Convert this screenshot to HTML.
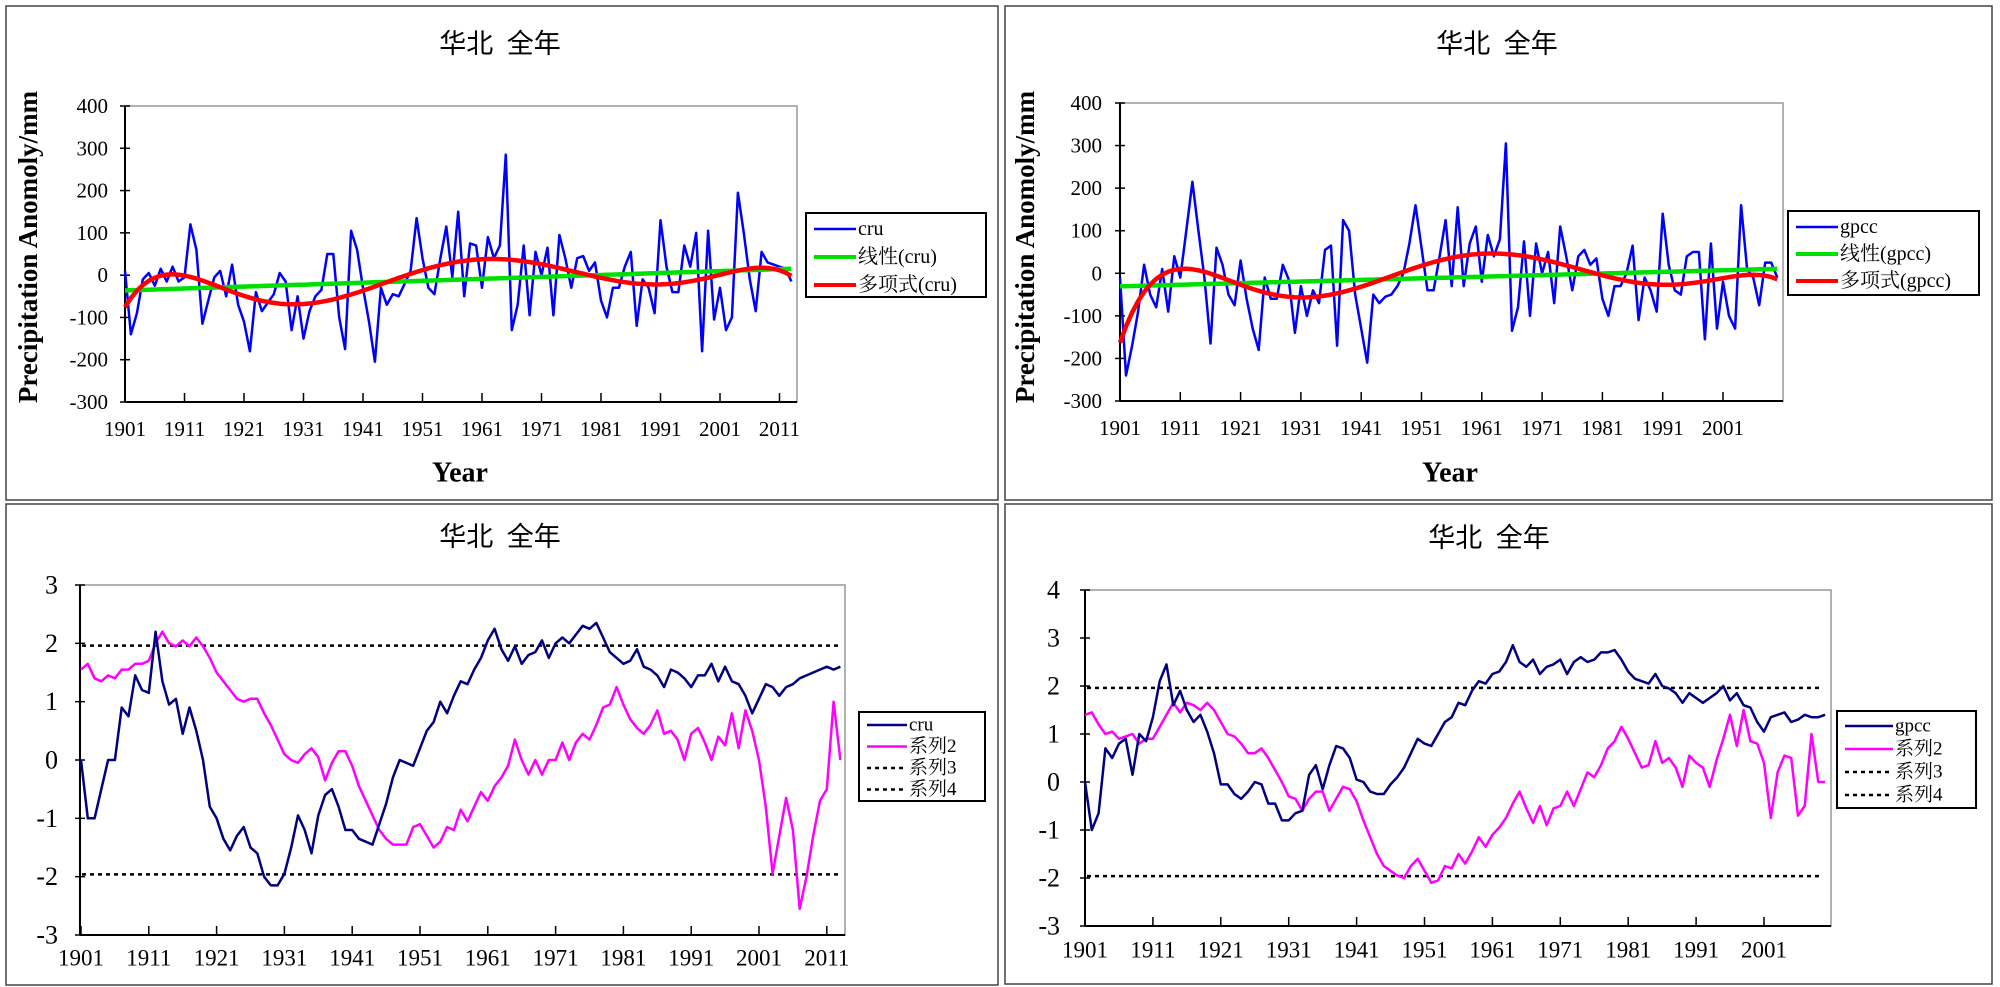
<!DOCTYPE html>
<html><head><meta charset="utf-8"><style>
html,body{margin:0;padding:0;background:#fff;}
svg{display:block;}
text{font-family:"Liberation Serif","Noto Serif CJK SC",serif;fill:#000;}
.cjk{font-family:"Liberation Serif","Noto Sans CJK SC",sans-serif;}
</style></head><body>
<svg id="root" width="2000" height="987" viewBox="0 0 2000 987" xmlns="http://www.w3.org/2000/svg">
<rect x="0" y="0" width="2000" height="987" fill="#fff"/>
<rect x="6" y="6" width="992" height="494" fill="none" stroke="#444" stroke-width="1.5"/>
<rect x="1005" y="6" width="987" height="494" fill="none" stroke="#444" stroke-width="1.5"/>
<rect x="6" y="504" width="992" height="481" fill="none" stroke="#444" stroke-width="1.5"/>
<rect x="1005" y="504" width="987" height="480" fill="none" stroke="#444" stroke-width="1.5"/>
</svg>
<script>
const cruAnom = [10,-140,-90,-10,5,-25,15,-15,20,-15,-5,120,60,-115,-60,-5,10,-50,25,-70,-110,-180,-40,-85,-65,-45,5,-15,-130,-50,-150,-85,-50,-35,50,50,-100,-175,105,60,-30,-110,-205,-30,-70,-45,-50,-20,10,135,40,-30,-45,40,115,-5,150,-50,75,70,-30,90,40,70,285,-130,-70,70,-95,55,0,65,-95,95,40,-30,40,45,10,30,-60,-100,-30,-30,20,55,-120,-10,-30,-90,130,20,-40,-40,70,20,100,-180,105,-105,-30,-130,-100,195,100,-10,-85,55,30,25,20,15,-15];
const gpccAnom = [-10,-240,-170,-90,20,-50,-80,10,-90,40,-10,100,215,100,-10,-165,60,20,-50,-75,30,-60,-130,-180,-10,-60,-60,20,-15,-140,-30,-100,-40,-70,55,65,-170,125,100,-50,-130,-210,-50,-70,-55,-50,-30,0,70,160,60,-40,-40,40,125,-30,155,-30,70,110,-20,90,40,80,305,-135,-80,75,-100,70,0,50,-70,110,40,-40,40,55,20,35,-60,-100,-30,-30,0,65,-110,-10,-40,-90,140,20,-40,-50,40,50,50,-155,70,-130,-20,-100,-130,160,10,-10,-75,25,25,-10];
const cruUF = [0,-1,-1,-0.5,0,0,0.9,0.75,1.45,1.2,1.15,2.2,1.35,0.95,1.05,0.45,0.9,0.5,0,-0.8,-1.0,-1.35,-1.55,-1.3,-1.15,-1.5,-1.6,-2.0,-2.15,-2.15,-1.95,-1.5,-0.95,-1.2,-1.6,-0.95,-0.6,-0.5,-0.8,-1.2,-1.2,-1.35,-1.4,-1.45,-1.1,-0.75,-0.3,0,-0.05,-0.1,0.2,0.5,0.65,1.0,0.8,1.1,1.35,1.3,1.55,1.75,2.05,2.25,1.9,1.7,1.95,1.65,1.8,1.85,2.05,1.75,2.0,2.1,2.0,2.15,2.3,2.25,2.35,2.1,1.85,1.75,1.65,1.7,1.9,1.6,1.55,1.45,1.25,1.55,1.5,1.4,1.25,1.45,1.45,1.65,1.35,1.6,1.35,1.3,1.1,0.8,1.05,1.3,1.25,1.1,1.25,1.3,1.4,1.45,1.5,1.55,1.6,1.55,1.6];
const cruUB = [1.55,1.65,1.4,1.35,1.45,1.4,1.55,1.55,1.65,1.65,1.7,2.0,2.2,2.0,1.95,2.05,1.95,2.1,1.95,1.75,1.5,1.35,1.2,1.05,1.0,1.05,1.05,0.8,0.6,0.35,0.1,0.0,-0.05,0.1,0.2,0.05,-0.35,-0.05,0.15,0.15,-0.1,-0.45,-0.7,-0.95,-1.2,-1.35,-1.45,-1.45,-1.45,-1.15,-1.1,-1.3,-1.5,-1.4,-1.15,-1.2,-0.85,-1.05,-0.8,-0.55,-0.7,-0.45,-0.3,-0.1,0.35,0.0,-0.25,0.0,-0.25,0.0,0.0,0.3,0.0,0.3,0.45,0.35,0.6,0.9,0.95,1.25,0.95,0.7,0.55,0.45,0.6,0.85,0.45,0.5,0.35,0.0,0.45,0.55,0.3,0.0,0.4,0.25,0.8,0.2,0.85,0.5,0.0,-0.8,-1.95,-1.3,-0.65,-1.2,-2.55,-2.0,-1.3,-0.7,-0.5,1.0,0.0];
const gpccUF = [0,-1.0,-0.65,0.7,0.5,0.8,0.9,0.15,1.0,0.85,1.35,2.1,2.45,1.6,1.9,1.5,1.25,1.4,1.05,0.6,-0.05,-0.05,-0.25,-0.35,-0.2,0.0,-0.05,-0.45,-0.45,-0.8,-0.8,-0.65,-0.6,0.15,0.35,-0.15,0.35,0.75,0.7,0.5,0.05,0.0,-0.2,-0.25,-0.25,-0.05,0.1,0.3,0.6,0.9,0.8,0.75,1.0,1.25,1.35,1.65,1.6,1.9,2.1,2.05,2.25,2.3,2.5,2.85,2.5,2.4,2.55,2.25,2.4,2.45,2.55,2.25,2.5,2.6,2.5,2.55,2.7,2.7,2.75,2.55,2.3,2.15,2.1,2.05,2.25,2.0,1.95,1.85,1.65,1.85,1.75,1.65,1.75,1.85,2.0,1.7,1.85,1.6,1.55,1.25,1.05,1.35,1.4,1.45,1.25,1.3,1.4,1.35,1.35,1.4];
const gpccUB = [1.4,1.45,1.2,1.0,1.05,0.9,0.95,1.0,0.8,0.9,0.9,1.15,1.4,1.65,1.45,1.65,1.6,1.5,1.65,1.5,1.25,1.0,0.95,0.8,0.6,0.6,0.7,0.5,0.25,0.0,-0.3,-0.35,-0.6,-0.35,-0.2,-0.2,-0.6,-0.35,-0.1,-0.15,-0.4,-0.8,-1.15,-1.5,-1.75,-1.85,-1.95,-2.0,-1.75,-1.6,-1.85,-2.1,-2.05,-1.75,-1.8,-1.5,-1.7,-1.45,-1.15,-1.35,-1.1,-0.95,-0.75,-0.45,-0.2,-0.55,-0.85,-0.5,-0.9,-0.55,-0.5,-0.2,-0.5,-0.15,0.2,0.1,0.35,0.7,0.85,1.15,0.9,0.6,0.3,0.35,0.85,0.4,0.5,0.3,-0.1,0.55,0.4,0.3,-0.1,0.45,0.9,1.4,0.75,1.5,0.85,0.8,0.4,-0.75,0.2,0.55,0.5,-0.7,-0.5,1.0,0.0,0.0];
const topTicksY = [400,300,200,100,0,-100,-200,-300];
const cruTicksX = [1901,1911,1921,1931,1941,1951,1961,1971,1981,1991,2001,2011];
const gpccTicksX = [1901,1911,1921,1931,1941,1951,1961,1971,1981,1991,2001];
const blTicksY = [3,2,1,0,-1,-2,-3];
const brTicksY = [4,3,2,1,0,-1,-2,-3];
const critVal = [1.96,-1.96];

const NS='http://www.w3.org/2000/svg';
const root=document.getElementById('root');
function mk(tag,attrs,parent){const e=document.createElementNS(NS,tag);for(const k in attrs)e.setAttribute(k,attrs[k]);(parent||root).appendChild(e);return e;}
function txt(s,x,y,size,anchor,parent,extra){const t=mk('text',Object.assign({x:x,y:y,'font-size':size,'text-anchor':anchor||'middle','dominant-baseline':'central'},extra||{}),parent);t.textContent=s;return t;}

function linfit(v){const n=v.length;let sx=0,sy=0,sxx=0,sxy=0;for(let i=0;i<n;i++){sx+=i;sy+=v[i];sxx+=i*i;sxy+=i*v[i];}const b=(n*sxy-sx*sy)/(n*sxx-sx*sx);const a=(sy-b*sx)/n;return v.map((_,i)=>a+b*i);}
function polyfit(v,deg){const n=v.length;const t=v.map((_,i)=>2*i/(n-1)-1);const m=deg+1;const A=[];for(let r=0;r<m;r++){A.push(new Array(m+1).fill(0));}
for(let i=0;i<n;i++){const p=[];for(let k=0;k<2*m;k++)p.push(Math.pow(t[i],k));for(let r=0;r<m;r++){for(let c=0;c<m;c++)A[r][c]+=p[r+c];A[r][m]+=p[r]*v[i];}}
for(let c=0;c<m;c++){let piv=c;for(let r=c+1;r<m;r++)if(Math.abs(A[r][c])>Math.abs(A[piv][c]))piv=r;[A[c],A[piv]]=[A[piv],A[c]];for(let r=0;r<m;r++){if(r===c)continue;const f=A[r][c]/A[c][c];for(let k=c;k<=m;k++)A[r][k]-=f*A[c][k];}}
const co=A.map((row,i)=>row[m]/row[i]);return t.map(x=>co.reduce((s,c,k)=>s+c*Math.pow(x,k),0));}

function panel(cfg){
  const g=mk('g',{},root);
  
  
  const L=cfg.L,R=cfg.R,T=cfg.T,B=cfg.B;
  const xs=yr=>cfg.x0+(yr-1901)*cfg.step;
  const ys=v=>T+(cfg.ymax-v)/(cfg.ymax-cfg.ymin)*(B-T);
  const plot=mk('rect',{x:L,y:T,width:R-L,height:B-T,fill:'#fff',stroke:'#999','stroke-width':1.5},g);
  
  
  const tt=txt('华北\u00a0\u00a0全年',cfg.titleX,cfg.titleY,27,'middle',g,{class:'cjk'});
  
  
  cfg.yticks.forEach(v=>{const y=ys(v);mk('line',{x1:L-5,x2:L+5,y1:y,y2:y,stroke:'#000','stroke-width':1.5},g);
    const t=txt(String(v),cfg.ylabX,y,cfg.ytickFs,'end',g);
    
    });
  cfg.xticks.forEach(yr=>{const x=xs(yr);mk('line',{x1:x,x2:x,y1:B,y2:B-9,stroke:'#000','stroke-width':1.5},g);
    const t=txt(String(yr),x,cfg.xlabY,cfg.tickFs,'middle',g);
    
    });
  mk('line',{x1:L,x2:L,y1:T,y2:B,stroke:'#000','stroke-width':2},g);
  mk('line',{x1:L,x2:R,y1:B,y2:B,stroke:'#000','stroke-width':2},g);
  if(cfg.ytitle){const t=txt(cfg.ytitle,cfg.ytitleX,cfg.ytitleY,27,'middle',g,{'font-weight':'bold',transform:'rotate(-90 '+cfg.ytitleX+' '+cfg.ytitleY+')'});
    
    }
  if(cfg.xtitle){const t=txt(cfg.xtitle,cfg.xtitleX,cfg.xtitleY,28,'middle',g,{'font-weight':'bold'});
    
    }
  cfg.series.forEach(s=>{
    let d='';
    if(s.hline!==undefined){d='M'+(L+2)+' '+ys(s.hline)+' L'+(cfg.dashEnd)+' '+ys(s.hline);}
    else s.data.forEach((v,i)=>{d+=(i?'L':'M')+xs(1901+i).toFixed(1)+' '+ys(v).toFixed(1)+' ';});
    const p=mk('path',{d:d,fill:'none',stroke:s.color,'stroke-width':s.w,'stroke-linejoin':'round','stroke-dasharray':s.dash||'none'},g);
    
    
  });
  const lg=mk('g',{},g);
  
  
  mk('rect',{x:cfg.lg.x,y:cfg.lg.y,width:cfg.lg.w,height:cfg.lg.h,fill:'#fff',stroke:'#000','stroke-width':2},lg);
  cfg.lg.items.forEach((it,i)=>{
    const y=cfg.lg.y0+i*cfg.lg.dy;
    const e=mk('g',{},lg);
    
    
    mk('line',{x1:cfg.lg.x+8,x2:cfg.lg.x+8+cfg.lg.lw,y1:y,y2:y,stroke:it.color,'stroke-width':it.w,'stroke-dasharray':it.dash||'none'},e);
    txt(it.label,cfg.lg.x+10+cfg.lg.lw,y,cfg.lg.fs,'start',e);
  });
}

const cruLin=linfit(cruAnom), cruPoly=polyfit(cruAnom,6);
const gpLin=linfit(gpccAnom), gpPoly=polyfit(gpccAnom,6);

panel({name:'chart-cru-anomaly',L:125,R:797,T:106,B:402,x0:125,step:5.95,ymin:-300,ymax:400,
  yticks:topTicksY,xticks:cruTicksX,ylabX:108,xlabY:429,tickFs:21,ytickFs:21,titleX:500,titleY:44,
  ytitle:'Precipitation Anomoly/mm',ytitleX:28,ytitleY:247,xtitle:'Year',xtitleX:460,xtitleY:473,
  series:[{name:'cru-line',data:cruAnom,color:'#0000ff',w:2.5},{name:'cru-linear-trend',data:cruLin,color:'#00e000',w:4.5},{name:'cru-poly-trend',data:cruPoly,color:'#ff0000',w:4.5}],
  lg:{x:806,y:213,w:180,h:84,y0:229,dy:28,lw:42,fs:20,items:[{label:'cru',color:'#0000ff',w:2.5},{label:'线性(cru)',color:'#00e000',w:4},{label:'多项式(cru)',color:'#ff0000',w:4}]}});

panel({name:'chart-gpcc-anomaly',L:1120,R:1783,T:103,B:401,x0:1120,step:6.03,ymin:-300,ymax:400,
  yticks:topTicksY,xticks:gpccTicksX,ylabX:1102,xlabY:428,tickFs:21,ytickFs:21,titleX:1497,titleY:44,
  ytitle:'Precipitation Anomoly/mm',ytitleX:1025,ytitleY:247,xtitle:'Year',xtitleX:1450,xtitleY:473,
  series:[{name:'gpcc-line',data:gpccAnom,color:'#0000ff',w:2.5},{name:'gpcc-linear-trend',data:gpLin,color:'#00e000',w:4.5},{name:'gpcc-poly-trend',data:gpPoly,color:'#ff0000',w:4.5}],
  lg:{x:1788,y:211,w:191,h:84,y0:227,dy:27,lw:42,fs:20,items:[{label:'gpcc',color:'#0000ff',w:2.5},{label:'线性(gpcc)',color:'#00e000',w:4},{label:'多项式(gpcc)',color:'#ff0000',w:4}]}});

panel({name:'chart-cru-mk-test',L:80,R:845,T:585,B:935,x0:81,step:6.78,ymin:-3,ymax:3,
  yticks:blTicksY,xticks:cruTicksX,ylabX:58,xlabY:958,tickFs:23,ytickFs:26,titleX:500,titleY:537,dashEnd:842,
  series:[{name:'series3-upper-critical',hline:critVal[0],color:'#000',w:2.5,dash:'4 4'},{name:'series4-lower-critical',hline:critVal[1],color:'#000',w:2.5,dash:'4 4'},
    {name:'series2-ub',data:cruUB,color:'#ff00ff',w:2.5},{name:'cru-uf',data:cruUF,color:'#000080',w:2.5}],
  lg:{x:859,y:712,w:126,h:89,y0:725,dy:21.5,lw:40,fs:19,items:[{label:'cru',color:'#000080',w:2.5},{label:'系列2',color:'#ff00ff',w:2.5},{label:'系列3',color:'#000',w:2.5,dash:'4 4'},{label:'系列4',color:'#000',w:2.5,dash:'4 4'}]}});

panel({name:'chart-gpcc-mk-test',L:1085,R:1831,T:590,B:926,x0:1085,step:6.79,ymin:-3,ymax:4,
  yticks:brTicksY,xticks:gpccTicksX,ylabX:1060,xlabY:950,tickFs:23,ytickFs:26,titleX:1489,titleY:538,dashEnd:1820,
  series:[{name:'series3-upper-critical',hline:critVal[0],color:'#000',w:2.5,dash:'4 4'},{name:'series4-lower-critical',hline:critVal[1],color:'#000',w:2.5,dash:'4 4'},
    {name:'series2-ub',data:gpccUB,color:'#ff00ff',w:2.5},{name:'gpcc-uf',data:gpccUF,color:'#000080',w:2.5}],
  lg:{x:1837,y:711,w:139,h:97,y0:726,dy:23,lw:48,fs:19,items:[{label:'gpcc',color:'#000080',w:2.5},{label:'系列2',color:'#ff00ff',w:2.5},{label:'系列3',color:'#000',w:2.5,dash:'4 4'},{label:'系列4',color:'#000',w:2.5,dash:'4 4'}]}});
</script>
</body></html>
